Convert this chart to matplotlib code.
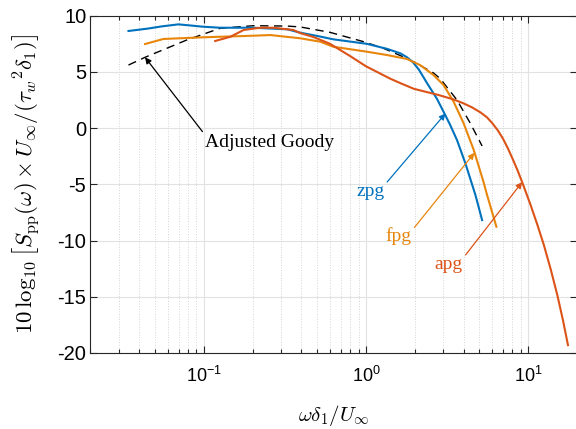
import matplotlib
matplotlib.use("Agg")
import matplotlib.pyplot as plt
from matplotlib.ticker import LogLocator, NullFormatter, FixedLocator

plt.rcParams['font.family'] = ['Liberation Sans', 'DejaVu Sans']
plt.rcParams['mathtext.fontset'] = 'cm'
plt.rcParams['axes.unicode_minus'] = False

# zero pressure gradient
zpg_x = [0.0343, 0.045, 0.055, 0.0697, 0.08, 0.099, 0.126, 0.2015, 0.327, 0.393,
         0.5, 0.628, 1.01, 1.35, 1.63, 1.79, 1.95, 2.12, 2.38, 2.74, 3.01, 3.3,
         3.64, 4.1, 4.73, 5.2]
zpg_y = [8.64, 8.85, 9.05, 9.23, 9.15, 9.02, 8.93, 8.93, 8.79, 8.49,
         8.2, 7.9, 7.5, 7.05, 6.65, 6.3, 5.85, 5.2, 4.0, 2.6, 1.45, 0.3,
         -1.06, -3.13, -5.95, -8.18]

# favourable pressure gradient
fpg_x = [0.0434, 0.0563, 0.0995, 0.2025, 0.257, 0.393, 0.522, 0.628, 1.01, 1.35,
         1.79, 2.16, 2.61, 3.01, 3.47, 4.0, 4.3, 4.62, 5.32, 5.58, 6.37]
fpg_y = [7.48, 7.93, 8.08, 8.22, 8.28, 7.99, 7.69, 7.24, 6.8, 6.5,
         6.15, 5.6, 4.72, 3.83, 2.35, 0.43, -0.77, -1.95, -4.85, -5.95, -8.77]

# adverse pressure gradient
apg_x = [0.1175, 0.146, 0.176, 0.223, 0.269, 0.357, 0.393, 0.475, 0.6, 0.8,
         1.0, 1.41, 1.63, 1.97, 2.81, 3.47, 4.0, 4.5, 5.08, 5.58, 6.0, 6.5, 7.0,
         7.5, 8.0, 8.6, 9.18, 10.3, 11.4, 12.5, 13.8, 15.1, 16.4, 17.6]
apg_y = [7.75, 8.13, 8.73, 8.93, 8.93, 8.73, 8.45, 8.1, 7.5, 6.4,
         5.5, 4.4, 4.0, 3.5, 2.94, 2.55, 2.2, 1.85, 1.4, 0.95, 0.45, -0.2, -0.95,
         -1.8, -2.7, -3.75, -4.8, -6.75, -8.6, -10.4, -12.6, -14.8, -17.1, -19.3]

# adjusted Goody model
goody_x = [0.0343, 0.0434, 0.0785, 0.126, 0.2025, 0.325, 0.393, 0.6, 0.966,
           1.28, 1.63, 2.0, 2.61, 2.87, 3.64, 4.4, 5.2]
goody_y = [5.61, 6.3, 7.84, 8.88, 9.11, 9.08, 9.0, 8.52, 7.69,
           7.1, 6.45, 5.85, 4.9, 4.4, 2.5, 0.43, -1.59]

c_zpg = '#0072BD'
c_fpg = '#E8860C'
c_apg = '#DC5318'

fig = plt.figure(figsize=(5.76, 4.29), dpi=100)
ax = fig.add_axes([0.1571, 0.1772, 0.8446, 0.7862])

ax.plot(goody_x, goody_y, '--', color='black', lw=1.0, dashes=(6, 4))
ax.plot(zpg_x, zpg_y, color=c_zpg, lw=1.5)
ax.plot(fpg_x, fpg_y, color=c_fpg, lw=1.5)
ax.plot(apg_x, apg_y, color=c_apg, lw=1.5)

ax.set_xscale('log')
ax.set_xlim(0.02, 20)
ax.set_ylim(-20, 10)
ax.yaxis.set_major_locator(FixedLocator([-20, -15, -10, -5, 0, 5, 10]))
ax.xaxis.set_minor_locator(LogLocator(base=10, subs=range(2, 10)))
ax.xaxis.set_minor_formatter(NullFormatter())

ax.grid(True, which='major', color='#e2e2e2', lw=0.8)
ax.xaxis.grid(True, which='minor', color='#d4d4d4', lw=0.7, linestyle=':')
ax.set_axisbelow(True)

ax.tick_params(which='both', direction='in', top=True, right=True,
               color='#262626', width=0.8)
ax.tick_params(which='major', length=5)
ax.tick_params(which='minor', length=3)
ax.tick_params(axis='x', pad=9, labelsize=13)
ax.tick_params(axis='y', pad=3, labelsize=14.5)
for s in ax.spines.values():
    s.set_color('#262626')
    s.set_linewidth(0.8)

ax.set_xlabel(r'$\omega\delta_1/U_\infty$', fontsize=15)
ax.set_ylabel(r'$10\,\log_{10}\left[S_{\mathrm{pp}}(\omega)\times U_\infty/({\tau_w}^2\delta_1)\right]$',
              fontsize=16.5)
ax.xaxis.set_label_coords(0.5, -0.148)
ax.yaxis.set_label_coords(-0.1, 0.5)

serif = ['Liberation Serif', 'DejaVu Serif']

def note(text, head, pos, color, ha, rel):
    ax.annotate(text, xy=head, xytext=pos, textcoords='data',
                ha=ha, va='baseline', fontsize=14, family=serif, color=color,
                arrowprops=dict(arrowstyle='-|>', color=color, lw=0.9,
                                mutation_scale=9, shrinkA=0, shrinkB=0,
                                relpos=rel))

note('Adjusted Goody', (0.0434, 6.3), (0.102, -1.68), 'black', 'left', (0, 0.93))
note('zpg', (3.09, 1.3), (1.063, -6.01), c_zpg, 'center', (1, 0.85))
note('fpg', (4.66, -2.2), (1.59, -10.06), c_fpg, 'center', (1, 0.8))
note('apg', (9.18, -4.8), (3.24, -12.51), c_apg, 'center', (1, 0.84))

fig.savefig('out.png', dpi=100)
